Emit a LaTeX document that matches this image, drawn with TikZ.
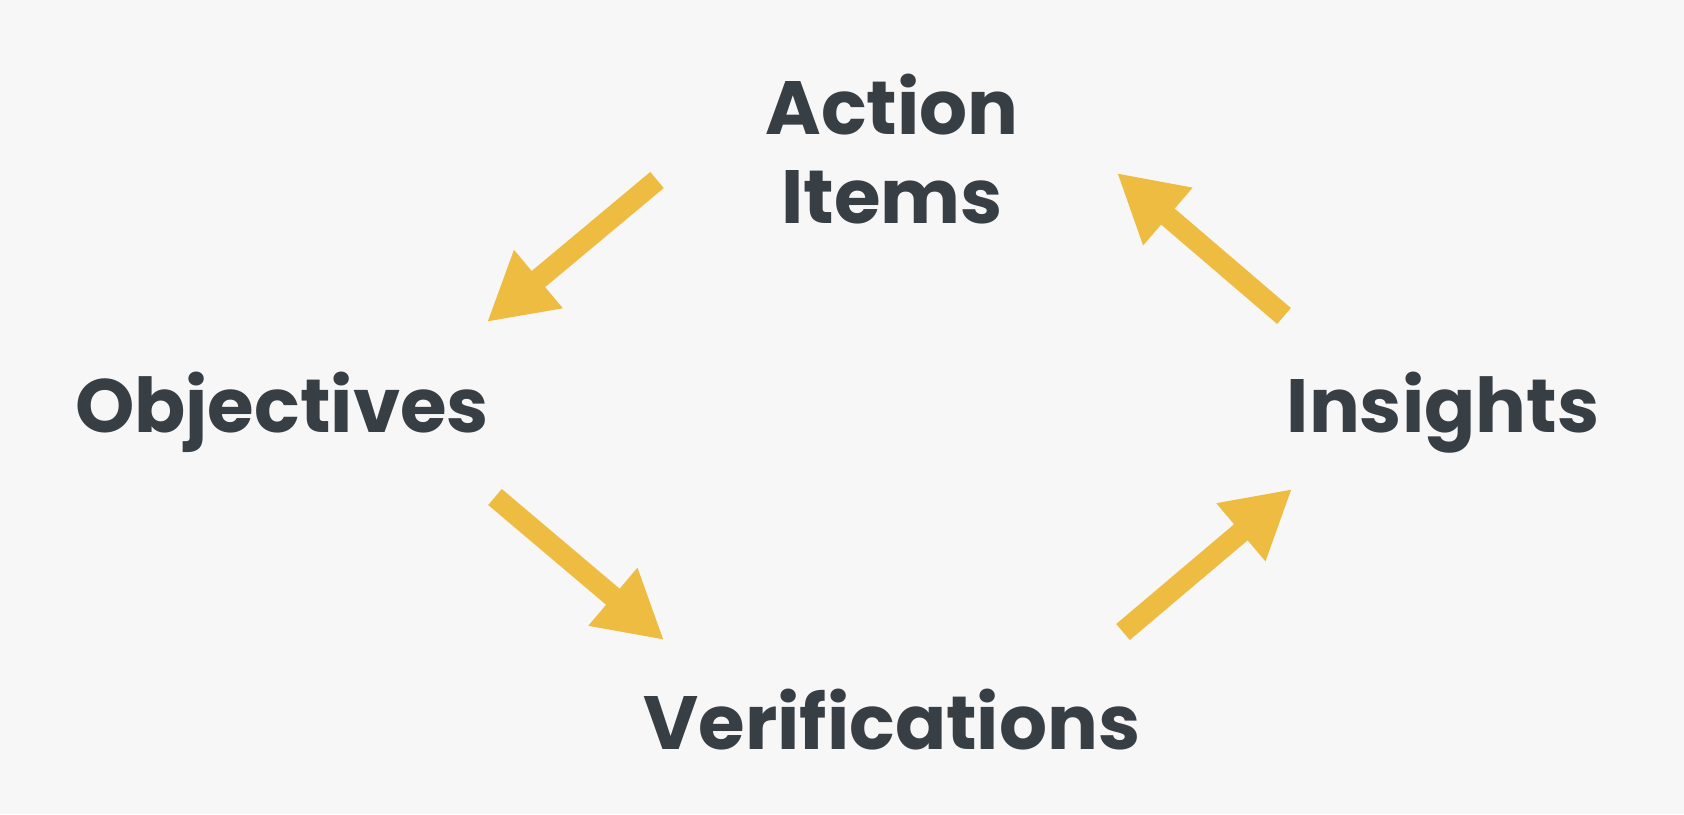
\documentclass[tikz,border=0pt]{standalone}
\usepackage{fontspec}
\setmainfont{Poppins}
\usetikzlibrary{arrows.meta}
\definecolor{bg}{HTML}{F7F7F7}
\definecolor{txt}{HTML}{373E44}
\definecolor{arr}{HTML}{EFBC42}
\begin{document}
\begin{tikzpicture}[x=1pt,y=-1pt,
  lbl/.style={text=txt,font=\fontsize{75.5}{89}\selectfont\bfseries,anchor=base,align=center,inner sep=0pt},
  flow/.style={draw=arr,line width=21pt,-{Triangle[length=67pt,width=71pt]}}]
\fill[bg] (0,0) rectangle (1684,814);
\useasboundingbox (0,0) rectangle (1684,814);
\node[lbl] (act) at (892,223) {Action\\Items};
\node[lbl] (obj) at (282,432) {Objectives};
\node[lbl] (ins) at (1443,432) {Insights};
\node[lbl] (ver) at (892,749) {Verifications};
\coordinate (a1s) at (657,180); \coordinate (a1e) at (487,322);
\coordinate (a2s) at (495,497); \coordinate (a2e) at (664,640);
\coordinate (a3s) at (1123,632); \coordinate (a3e) at (1292,489);
\coordinate (a4s) at (1284,316); \coordinate (a4e) at (1117,173);
\draw[flow] (a1s) -- (a1e);
\draw[flow] (a2s) -- (a2e);
\draw[flow] (a3s) -- (a3e);
\draw[flow] (a4s) -- (a4e);
\end{tikzpicture}
\end{document}
